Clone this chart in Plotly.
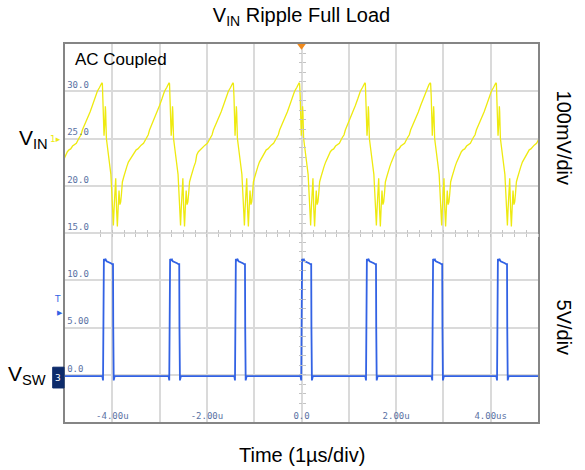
import plotly.graph_objects as go

# Scope capture (time in us, vertical in screen units, 5 units/div)
# V_IN (yellow): peak instants, and the shape around each peak
vin_peaks = [-5.60, -4.21, -2.79, -1.44, -0.04, 1.35, 2.73, 4.12, 5.52]
vin_ramp_dt = [-0.775, -0.74, -0.705, -0.67, -0.63, -0.6, -0.55, -0.493, -0.45, -0.423,
               -0.37, -0.317, -0.26, -0.211, -0.16, -0.106, -0.06, -0.035, -0.01]
vin_ramp_v = [23.25, 23.6, 23.8, 23.9, 24.2, 24.3, 24.5, 25.05, 25.4, 25.9,
              26.5, 27.2, 27.8, 28.5, 29.2, 30.0, 30.4, 30.7, 30.9]
vin_drop_dt = [0.0, 0.012, 0.035, 0.05, 0.063, 0.07, 0.085, 0.105, 0.127, 0.145,
               0.162, 0.18, 0.197, 0.215, 0.233, 0.247, 0.261, 0.282, 0.3, 0.317,
               0.335, 0.352, 0.37, 0.388, 0.405, 0.423, 0.45, 0.479, 0.515, 0.55]
vin_drop_v = [30.8, 29.5, 25.3, 26.5, 28.4, 27.8, 25.0, 24.2, 23.5, 23.0,
              22.3, 21.2, 19.5, 17.0, 15.8, 17.5, 19.0, 20.8, 17.5, 15.7,
              17.8, 19.5, 18.0, 18.3, 19.2, 20.4, 20.9, 21.5, 22.0, 22.5]

# V_SW (blue): rising edges and pulse shape
sw_rise = [-4.19, -2.79, -1.40, 0.0, 1.37, 2.77, 4.14]
sw_pulse_dt = [-0.02, -0.006, 0.0, 0.002, 0.012, 0.03, 0.05, 0.07, 0.1, 0.13,
               0.16, 0.19, 0.205, 0.21, 0.214, 0.22, 0.24]
sw_pulse_v = [-0.15, -0.6, 7.8, 7.8, 12.25, 12.1, 12.2, 12.0, 11.95, 11.9,
              11.8, 11.7, 11.7, 5.0, 1.0, -0.6, -0.15]
sw_base = -0.15

# graticule labels
x_ticks = [-4, -3, -2, -1, 0, 1, 2, 3, 4]
x_labels = ['-4.00u', '', '-2.00u', '', '0.0', '', '2.00u', '', '4.00us']
y_ticks = [0, 5, 10, 15, 20, 25, 30]
y_labels = ['0.0', '5.00', '10.0', '15.0', '20.0', '25.0', '30.0']

# build the traces from the read values
vin_t, vin_v = [], []
for p in vin_peaks:
    vin_t += [p + d for d in vin_ramp_dt]
    vin_v += vin_ramp_v
    vin_t += [p + d for d in vin_drop_dt]
    vin_v += vin_drop_v

sw_t, sw_v = [-5.0], [sw_base]
for r in sw_rise:
    sw_t += [r + d for d in sw_pulse_dt]
    sw_v += sw_pulse_v
sw_t.append(5.0)
sw_v.append(sw_base)

fig = go.Figure()
fig.add_trace(go.Scatter(x=vin_t, y=vin_v, mode='lines',
                         line=dict(color='#eeea10', width=1.3), hoverinfo='skip'))
fig.add_trace(go.Scatter(x=sw_t, y=sw_v, mode='lines',
                         line=dict(color='#3262e4', width=1.8), hoverinfo='skip'))

tick_font = dict(family='DejaVu Sans Mono', size=9, color='#5a72a4')
label_font = dict(family='Liberation Sans, Arial', color='black')

fig.update_layout(
    width=585, height=470,
    margin=dict(l=65, r=47, t=44, b=48),
    paper_bgcolor='white', plot_bgcolor='white',
    showlegend=False,
    title=dict(text='V<sub>IN</sub> Ripple Full Load', x=0.5, xref='paper',
               y=0.968, yref='container', yanchor='middle',
               font=dict(label_font, size=20)),
    xaxis=dict(range=[-5, 5], tickvals=x_ticks, ticktext=x_labels,
               ticklabelposition='inside', tickfont=tick_font,
               showgrid=True, gridcolor='#dadada', gridwidth=1.5,
               zeroline=False, showline=True, linecolor='#858585', linewidth=2,
               mirror=True, ticks='', fixedrange=True),
    yaxis=dict(range=[-5, 35], tickvals=y_ticks, ticktext=y_labels,
               ticklabelposition='inside top', tickfont=tick_font,
               showgrid=True, gridcolor='#dadada', gridwidth=1.5,
               zeroline=False, showline=True, linecolor='#858585', linewidth=2,
               mirror=True, ticks='', fixedrange=True),
)

# centre graticule cross with small division marks
for i, side in enumerate(['outside', 'inside']):
    fig.update_layout({
        f'xaxis{i + 2}': dict(overlaying='x', anchor='free', position=0.5, range=[-5, 5],
                              dtick=0.25, tick0=0, ticks=side, ticklen=3, tickwidth=1,
                              tickcolor='#c4c4c4', showticklabels=False, showgrid=False,
                              showline=False, zeroline=False, fixedrange=True),
        f'yaxis{i + 2}': dict(overlaying='y', anchor='free', position=0.5, range=[-5, 35],
                              dtick=1, tick0=0, ticks=side, ticklen=3, tickwidth=1,
                              tickcolor='#c4c4c4', showticklabels=False, showgrid=False,
                              showline=False, zeroline=False, fixedrange=True),
    })
    fig.add_trace(go.Scatter(x=[], y=[], xaxis=f'x{i + 2}', yaxis='y', hoverinfo='skip'))
    fig.add_trace(go.Scatter(x=[], y=[], xaxis='x', yaxis=f'y{i + 2}', hoverinfo='skip'))

# trigger position marker at the top
fig.add_shape(type='path', xref='x', yref='paper',
              path='M -0.09 1.0 L 0.09 1.0 L 0 0.985 Z',
              fillcolor='#f08a1c', line=dict(width=0))

# channel 3 ground marker box
fig.add_shape(type='rect', xref='paper', yref='y', x0=-0.026, x1=-0.002, y0=-1.4, y1=0.8,
              fillcolor='#0d2b6b', line=dict(color='#0d2b6b', width=1))

annos = [
    dict(text='AC Coupled', x=0.017, y=0.958, xref='paper', yref='paper',
         xanchor='left', yanchor='middle', font=dict(label_font, size=17)),
    dict(text='V<sub>IN</sub>', x=-0.032, y=25, xref='paper', yref='y',
         xanchor='right', yanchor='middle', font=dict(label_font, size=21)),
    dict(text='V<sub>SW</sub>', x=-0.036, y=0, xref='paper', yref='y',
         xanchor='right', yanchor='middle', font=dict(label_font, size=21)),
    dict(text='100mV/div', x=1.057, y=25, xref='paper', yref='y', textangle=90,
         xanchor='center', yanchor='middle', font=dict(label_font, size=20)),
    dict(text='5V/div', x=1.057, y=5, xref='paper', yref='y', textangle=90,
         xanchor='center', yanchor='middle', font=dict(label_font, size=20)),
    dict(text='Time (1µs/div)', x=0.5, y=-0.087, xref='paper', yref='paper',
         xanchor='center', yanchor='middle', font=dict(label_font, size=20)),
    dict(text='1▸', x=-0.005, y=25, xref='paper', yref='y', xanchor='right',
         yanchor='middle', font=dict(family='DejaVu Sans', size=9, color='#eeea10')),
    dict(text='3', x=-0.014, y=-0.3, xref='paper', yref='y', xanchor='center',
         yanchor='middle', font=dict(family='DejaVu Sans', size=9, color='white')),
    dict(text='T', x=-0.005, y=8.0, xref='paper', yref='y', xanchor='right',
         yanchor='middle', font=dict(family='DejaVu Sans', size=9, color='#3262e4')),
    dict(text='▶', x=-0.001, y=6.5, xref='paper', yref='y', xanchor='right',
         yanchor='middle', font=dict(family='DejaVu Sans', size=7, color='#3262e4')),
]
for a in annos:
    fig.add_annotation(showarrow=False, **a)

# the page's default body margin would shift the figure off the 585x470 window
fig.write_html('out.html', config={'displayModeBar': False},
               post_script="document.body.style.margin='0';")
